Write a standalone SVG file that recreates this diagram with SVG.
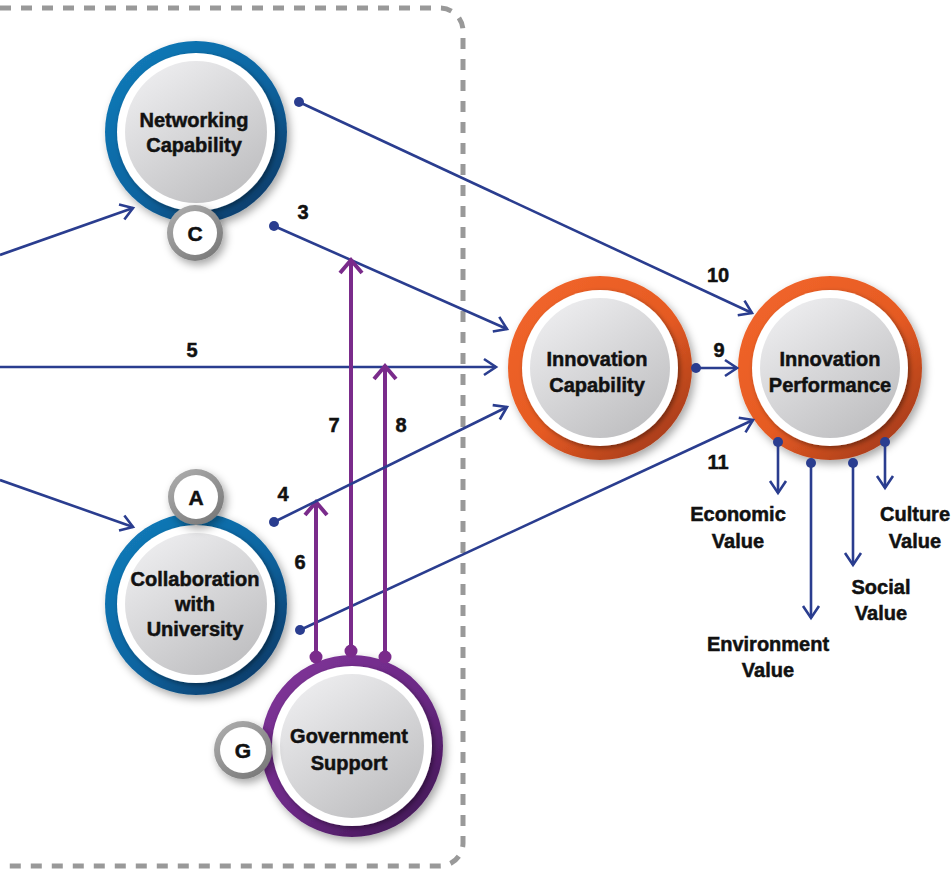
<svg xmlns="http://www.w3.org/2000/svg" width="952" height="872" viewBox="0 0 952 872">
<defs>
<style>
.t{font-family:"Liberation Sans",Arial,sans-serif;font-weight:bold;font-size:20px;fill:#111;stroke:#111;stroke-width:0.5;text-anchor:middle}
.b{font-size:21px}
.bl{stroke:#2a3d8f;stroke-width:2.6;fill:none}
.pl{stroke:#7a2b8b;stroke-width:4;fill:none}
.bd{fill:#2a3d8f}
.pd{fill:#7a2b8b}
</style>
<linearGradient id="gBlue" x1="0.15" y1="0.1" x2="0.85" y2="0.9"><stop offset="0" stop-color="#1278b6"/><stop offset="0.55" stop-color="#0a64a0"/><stop offset="1" stop-color="#0b3e6c"/></linearGradient>
<linearGradient id="gOrange" x1="0.15" y1="0.1" x2="0.85" y2="0.9"><stop offset="0" stop-color="#f0642a"/><stop offset="0.55" stop-color="#e55a22"/><stop offset="1" stop-color="#a93d1b"/></linearGradient>
<linearGradient id="gPurple" x1="0.15" y1="0.1" x2="0.85" y2="0.9"><stop offset="0" stop-color="#7d3296"/><stop offset="0.55" stop-color="#6a2884"/><stop offset="1" stop-color="#46195a"/></linearGradient>
<linearGradient id="gGray" x1="0.2" y1="0.05" x2="0.8" y2="0.95"><stop offset="0" stop-color="#ececee"/><stop offset="1" stop-color="#bfbfc1"/></linearGradient>
<linearGradient id="gBadge" x1="0.2" y1="0.1" x2="0.8" y2="0.9"><stop offset="0" stop-color="#a8a8a8"/><stop offset="1" stop-color="#7c7c7c"/></linearGradient>
<filter id="sh" x="-20%" y="-20%" width="150%" height="150%"><feDropShadow dx="3" dy="4" stdDeviation="4" flood-color="#000" flood-opacity="0.35"/></filter>
<filter id="sh2" x="-20%" y="-20%" width="150%" height="150%"><feDropShadow dx="2" dy="2" stdDeviation="2.5" flood-color="#000" flood-opacity="0.4"/></filter>
<marker id="ab" viewBox="0 0 14 18" refX="13" refY="9" markerWidth="14" markerHeight="18" markerUnits="userSpaceOnUse" orient="auto" overflow="visible"><path d="M1,1 L13,9 L1,17" fill="none" stroke="#2a3d8f" stroke-width="2.6"/></marker>
<marker id="ap" viewBox="0 0 16 24" refX="14" refY="12" markerWidth="16" markerHeight="24" markerUnits="userSpaceOnUse" orient="auto" overflow="visible"><path d="M1,1 L14,12 L1,23" fill="none" stroke="#7a2b8b" stroke-width="4"/></marker>
</defs>
<rect width="952" height="872" fill="#fff"/>
<path d="M0 8 H440 A23 23 0 0 1 463 31 V843 A23 23 0 0 1 440 866 H0" fill="none" stroke="#999" stroke-width="5" stroke-dasharray="11 10"/>

<g id="networking">
<circle cx="196" cy="132" r="91" fill="url(#gBlue)" filter="url(#sh)"/>
<circle cx="196" cy="132" r="79" fill="#fff" filter="url(#sh2)"/>
<circle cx="196" cy="132" r="71" fill="url(#gGray)"/>
<text class="t" x="194" y="127">Networking</text>
<text class="t" x="194" y="152">Capability</text>
</g>
<g id="badgeC">
<circle cx="195" cy="233" r="28" fill="url(#gBadge)" filter="url(#sh)"/>
<circle cx="195" cy="233" r="22" fill="#fff"/>
<text class="t b" x="195" y="241">C</text>
</g>

<g id="collaboration">
<circle cx="196" cy="604" r="91" fill="url(#gBlue)" filter="url(#sh)"/>
<circle cx="196" cy="604" r="79" fill="#fff" filter="url(#sh2)"/>
<circle cx="196" cy="604" r="71" fill="url(#gGray)"/>
<text class="t" x="195" y="586">Collaboration</text>
<text class="t" x="195" y="611">with</text>
<text class="t" x="195" y="636">University</text>
</g>
<g id="badgeA">
<circle cx="196" cy="497" r="28" fill="url(#gBadge)" filter="url(#sh)"/>
<circle cx="196" cy="497" r="22" fill="#fff"/>
<text class="t b" x="196" y="505">A</text>
</g>

<g id="government">
<circle cx="352" cy="746" r="91" fill="url(#gPurple)" filter="url(#sh)"/>
<circle cx="352" cy="746" r="80" fill="#fff" filter="url(#sh2)"/>
<circle cx="352" cy="746" r="72" fill="url(#gGray)"/>
<text class="t" x="349" y="743">Government</text>
<text class="t" x="349" y="770">Support</text>
</g>
<g id="badgeG">
<circle cx="243" cy="750" r="29" fill="url(#gBadge)" filter="url(#sh)"/>
<circle cx="243" cy="750" r="23" fill="#fff"/>
<text class="t b" x="243" y="758">G</text>
</g>

<g id="innovation-capability">
<circle cx="600" cy="368" r="92" fill="url(#gOrange)" filter="url(#sh)"/>
<circle cx="600" cy="368" r="78" fill="#fff" filter="url(#sh2)"/>
<circle cx="600" cy="368" r="70" fill="url(#gGray)"/>
<text class="t" x="597" y="366">Innovation</text>
<text class="t" x="597" y="392">Capability</text>
</g>

<g id="innovation-performance">
<circle cx="830" cy="368" r="92" fill="url(#gOrange)" filter="url(#sh)"/>
<circle cx="830" cy="368" r="78" fill="#fff" filter="url(#sh2)"/>
<circle cx="830" cy="368" r="70" fill="url(#gGray)"/>
<text class="t" x="830" y="366">Innovation</text>
<text class="t" x="830" y="392">Performance</text>
</g>

<g id="connectors">
<line class="bl" x1="0" y1="255" x2="133" y2="208" marker-end="url(#ab)"/>
<line class="bl" x1="0" y1="480" x2="133" y2="527" marker-end="url(#ab)"/>
<line class="bl" x1="0" y1="367" x2="496" y2="367" marker-end="url(#ab)"/>
<line class="bl" x1="274" y1="226" x2="507" y2="329" marker-end="url(#ab)"/>
<circle class="bd" cx="274" cy="226" r="5"/>
<line class="bl" x1="299" y1="102" x2="752" y2="313" marker-end="url(#ab)"/>
<circle class="bd" cx="299" cy="102" r="5"/>
<line class="bl" x1="300" y1="630" x2="753" y2="420" marker-end="url(#ab)"/>
<circle class="bd" cx="300" cy="630" r="5"/>
<line class="bl" x1="696" y1="368" x2="737" y2="368" marker-end="url(#ab)"/>
<circle class="bd" cx="696" cy="368" r="5"/>
<line class="pl" x1="316" y1="657" x2="316" y2="502" marker-end="url(#ap)"/>
<line class="pl" x1="351" y1="652" x2="351" y2="260" marker-end="url(#ap)"/>
<line class="pl" x1="385" y1="657" x2="385" y2="366" marker-end="url(#ap)"/>
<circle class="pd" cx="316" cy="657" r="6.5"/>
<circle class="pd" cx="351" cy="651" r="6.5"/>
<circle class="pd" cx="385" cy="657" r="6.5"/>
<line class="bl" x1="274" y1="522" x2="507" y2="407" marker-end="url(#ab)"/>
<circle class="bd" cx="274" cy="522" r="5"/>
<line class="bl" x1="778" y1="442" x2="778" y2="493" marker-end="url(#ab)"/>
<circle class="bd" cx="778" cy="442" r="5"/>
<line class="bl" x1="811" y1="463" x2="811" y2="618" marker-end="url(#ab)"/>
<circle class="bd" cx="811" cy="463" r="5"/>
<line class="bl" x1="853" y1="463" x2="853" y2="565" marker-end="url(#ab)"/>
<circle class="bd" cx="853" cy="463" r="5"/>
<line class="bl" x1="885" y1="442" x2="885" y2="488" marker-end="url(#ab)"/>
<circle class="bd" cx="885" cy="442" r="5"/>
</g>

<g id="labels">
<text class="t" x="303" y="219">3</text>
<text class="t" x="192" y="357">5</text>
<text class="t" x="334" y="432">7</text>
<text class="t" x="401" y="432">8</text>
<text class="t" x="283" y="501">4</text>
<text class="t" x="300" y="569">6</text>
<text class="t" x="719" y="357">9</text>
<text class="t" x="718" y="282">10</text>
<text class="t" x="718" y="469">11</text>
</g>

<g id="economic-value">
<text class="t" x="738" y="521">Economic</text>
<text class="t" x="738" y="548">Value</text>
</g>
<g id="environment-value">
<text class="t" x="768" y="651">Environment</text>
<text class="t" x="768" y="677">Value</text>
</g>
<g id="social-value">
<text class="t" x="881" y="594">Social</text>
<text class="t" x="881" y="620">Value</text>
</g>
<g id="culture-value">
<text class="t" x="915" y="521">Culture</text>
<text class="t" x="915" y="548">Value</text>
</g>
</svg>
